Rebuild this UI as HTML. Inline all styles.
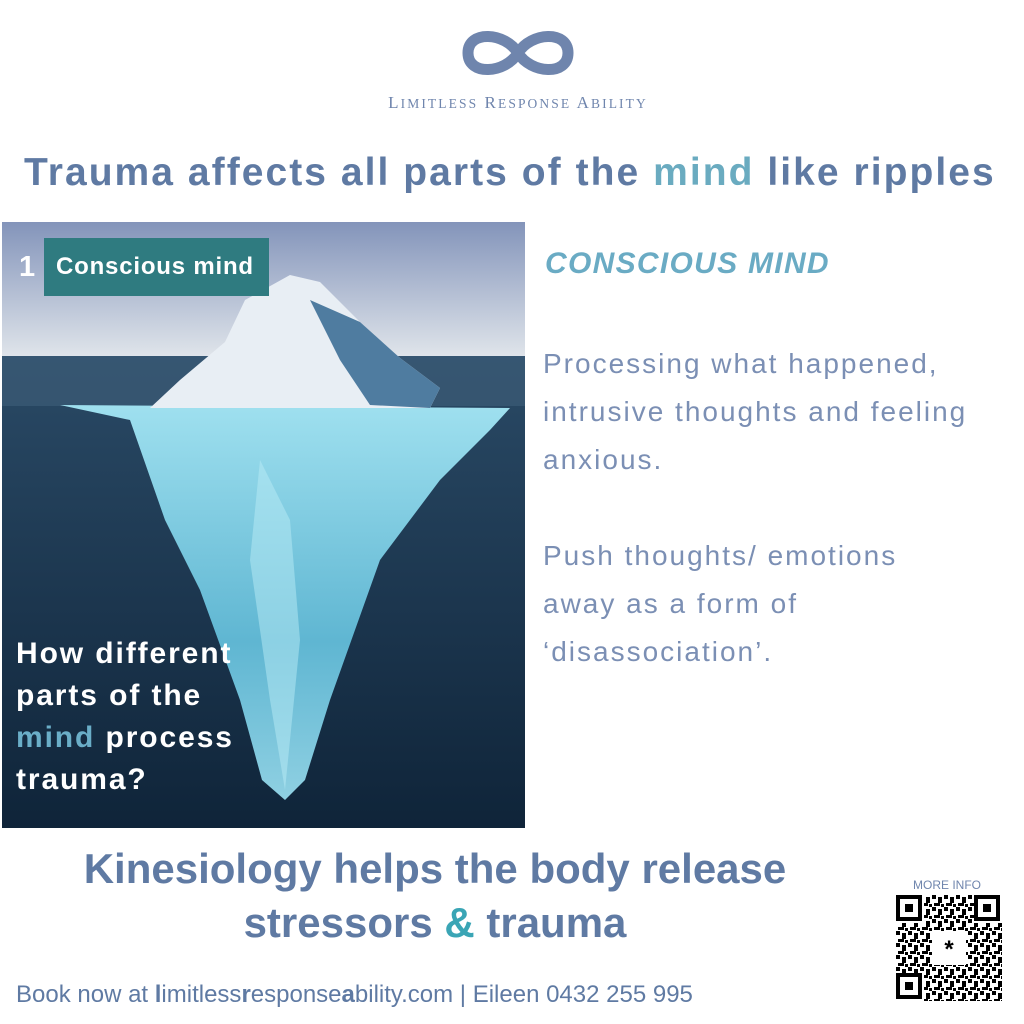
<!DOCTYPE html>
<html><head><meta charset="utf-8"><style>
body{margin:0;width:1024px;height:1024px;background:#fff;position:relative;overflow:hidden;font-family:"Liberation Sans",sans-serif}
.a{position:absolute;white-space:nowrap}
</style></head><body>
<svg class="a" style="left:460px;top:22px" width="116" height="62" viewBox="0 0 116 62">
<path d="M58 31 C45 10 8 8 8 31 C8 54 45 52 58 31 C71 10 108 8 108 31 C108 54 71 52 58 31 Z" fill="none" stroke="#6f85ad" stroke-width="11"/>
</svg>
<div class="a" style="left:0;width:1036px;text-align:center;top:93px;font-family:'Liberation Serif',serif;font-size:17px;letter-spacing:2.1px;color:#6f85ad">L<span style="font-size:13.5px">IMITLESS</span> R<span style="font-size:13.5px">ESPONSE</span> A<span style="font-size:13.5px">BILITY</span></div>
<div class="a" style="left:24px;top:151px;font-size:39px;font-weight:bold;color:#5f7aa3;letter-spacing:2.05px">Trauma affects all parts of the <span style="color:#6aabc0">mind</span> like ripples</div>

<svg class="a" style="left:2px;top:222px" width="523" height="606" viewBox="2 222 523 606">
<defs>
<linearGradient id="sky" x1="0" y1="0" x2="0" y2="1"><stop offset="0" stop-color="#8394ba"/><stop offset="1" stop-color="#dfe4ea"/></linearGradient>
<linearGradient id="sea" x1="0" y1="0" x2="0" y2="1"><stop offset="0" stop-color="#2a4a66"/><stop offset="1" stop-color="#0f2439"/></linearGradient>
<linearGradient id="ice" x1="0" y1="0" x2="0" y2="1"><stop offset="0" stop-color="#9fe0ef"/><stop offset="0.6" stop-color="#5fb6d2"/><stop offset="1" stop-color="#8fd0e2"/></linearGradient>
</defs>
<rect x="2" y="222" width="523" height="134" fill="url(#sky)"/>
<rect x="2" y="356" width="523" height="472" fill="url(#sea)"/>
<rect x="2" y="356" width="523" height="50" fill="#3f5f7a" opacity="0.6"/>
<polygon points="60,405 130,420 165,520 200,590 240,700 262,780 285,800 305,780 330,700 380,560 440,480 490,430 510,408" fill="url(#ice)"/>
<polygon points="260,460 290,520 300,640 285,790 270,700 250,560" fill="#b9ecf6" opacity="0.5"/>
<polygon points="150,408 180,380 225,342 245,300 290,275 320,282 360,322 400,358 440,388 430,408" fill="#e8eef4"/>
<polygon points="310,300 360,322 400,358 440,388 430,408 370,405 340,360" fill="#4f7ca0"/>
<rect x="44" y="238" width="225" height="58" fill="#2f7b80"/>
<text x="19" y="276" font-family="Liberation Sans" font-weight="bold" font-size="29" fill="#fff">1</text>
<text x="56" y="274" font-family="Liberation Sans" font-weight="bold" font-size="24" letter-spacing="0.8" fill="#fff">Conscious mind</text>
<g font-family="Liberation Sans" font-weight="bold" font-size="30" letter-spacing="1.9" fill="#fff">
<text x="16" y="663">How different</text>
<text x="16" y="705">parts of the</text>
<text x="16" y="747"><tspan fill="#6aaec8">mind</tspan> process</text>
<text x="16" y="789">trauma?</text>
</g>
</svg>

<div class="a" style="left:545px;top:247px;font-size:30px;font-weight:bold;font-style:italic;letter-spacing:1.3px;color:#6aabc4">CONSCIOUS MIND</div>
<div class="a" style="left:543px;top:340px;font-size:28px;letter-spacing:2px;line-height:48px;color:#7b8fb4">Processing what happened,<br>intrusive thoughts and feeling<br>anxious.<br><br>Push thoughts/ emotions<br>away as a form of<br>‘disassociation’.</div>

<div class="a" style="left:0;width:870px;text-align:center;top:842px;font-size:42px;font-weight:bold;line-height:54px;color:#5f7aa3">Kinesiology helps the body release<br>stressors <span style="color:#3aa5b5">&amp;</span> trauma</div>
<div class="a" style="left:16px;top:981px;font-size:24px;color:#5f7aa3">Book now at <b>l</b>imitless<b>r</b>esponse<b>a</b>bility.com | Eileen 0432 255 995</div>

<div class="a" style="left:913px;top:878px;font-size:12px;color:#6f85ad">MORE INFO</div>
<svg class="a" style="left:896px;top:895px" width="106" height="106" viewBox="0 0 106 106">
<defs><pattern id="q" width="12" height="12" patternUnits="userSpaceOnUse">
<rect x="0" y="0" width="4" height="4"/><rect x="6" y="2" width="4" height="6"/><rect x="2" y="8" width="6" height="3"/><rect x="9" y="9" width="3" height="3"/></pattern></defs>
<rect width="106" height="106" fill="url(#q)"/>
<g fill="#fff"><rect x="0" y="0" width="28" height="28"/><rect x="78" y="0" width="28" height="28"/><rect x="0" y="78" width="28" height="28"/><rect x="36" y="36" width="34" height="34"/></g>
<g fill="none" stroke="#000" stroke-width="4"><rect x="2" y="2" width="22" height="22"/><rect x="80" y="2" width="22" height="22"/><rect x="2" y="80" width="22" height="22"/></g>
<rect x="9" y="9" width="8" height="8"/><rect x="87" y="9" width="8" height="8"/><rect x="9" y="87" width="8" height="8"/>
<text x="53" y="62" text-anchor="middle" font-size="24" font-weight="bold" font-family="Liberation Sans">*</text>
</svg>
</body></html>
